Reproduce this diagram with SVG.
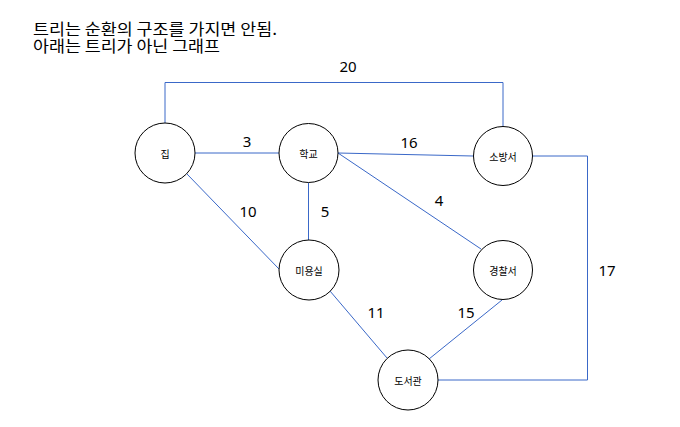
<svg xmlns="http://www.w3.org/2000/svg" width="680" height="427" viewBox="0 0 680 427">
<style>
.title{font-family:"Noto Sans CJK KR","Noto Sans",sans-serif;font-size:15.5px;fill:#000}
.lbl{font-family:"Noto Sans CJK KR","Noto Sans",sans-serif;font-size:10px;fill:#000;text-anchor:middle;dominant-baseline:central}
.w{font-family:"Noto Sans","DejaVu Sans",sans-serif;font-size:15px;fill:#000;text-anchor:middle}
.n{fill:#fff;stroke:#000;stroke-width:1}
.e{fill:none;stroke:#3a68c8;stroke-width:1}
</style>
<rect width="680" height="427" fill="#fff"/>
<text class="title"><tspan x="33" y="35" textLength="244" lengthAdjust="spacingAndGlyphs">트리는 순환의 구조를 가지면 안됨.</tspan><tspan x="33" y="52" textLength="187" lengthAdjust="spacingAndGlyphs">아래는 트리가 아닌 그래프</tspan></text>
<g id="connectors">
<polyline class="e" points="165,123 165,82.5 503,82.5 503,126"/>
<line class="e" x1="195" y1="153" x2="279" y2="153"/>
<line class="e" x1="338" y1="153" x2="473" y2="156"/>
<line class="e" x1="338" y1="153" x2="481" y2="249"/>
<line class="e" x1="308.5" y1="183" x2="308.5" y2="240"/>
<line class="e" x1="187" y1="174" x2="279" y2="269"/>
<line class="e" x1="330" y1="291" x2="387" y2="358"/>
<line class="e" x1="502" y1="300" x2="429" y2="359"/>
<polyline class="e" points="533,156 587.5,156 587.5,380 438,380"/>
<text class="w" x="348" y="72">20</text>
<text class="w" x="247" y="147">3</text>
<text class="w" x="409" y="148">16</text>
<text class="w" x="248" y="217">10</text>
<text class="w" x="325" y="217">5</text>
<text class="w" x="439" y="206">4</text>
<text class="w" x="376" y="318">11</text>
<text class="w" x="466" y="318">15</text>
<text class="w" x="607" y="276">17</text>
</g>
<g id="node-jip"><circle class="n" cx="165" cy="153" r="30"/><text class="lbl" x="165" y="153">집</text></g>
<g id="node-school"><circle class="n" cx="308.5" cy="153" r="29.5"/><text class="lbl" x="308.5" y="153">학교</text></g>
<g id="node-fire"><circle class="n" cx="503" cy="156" r="29.5"/><text class="lbl" x="503" y="156">소방서</text></g>
<g id="node-salon"><circle class="n" cx="309" cy="270" r="30"/><text class="lbl" x="309" y="270">미용실</text></g>
<g id="node-police"><circle class="n" cx="503" cy="270" r="29.5"/><text class="lbl" x="503" y="270">경찰서</text></g>
<g id="node-library"><circle class="n" cx="408" cy="380" r="30"/><text class="lbl" x="408" y="380">도서관</text></g>
</svg>
